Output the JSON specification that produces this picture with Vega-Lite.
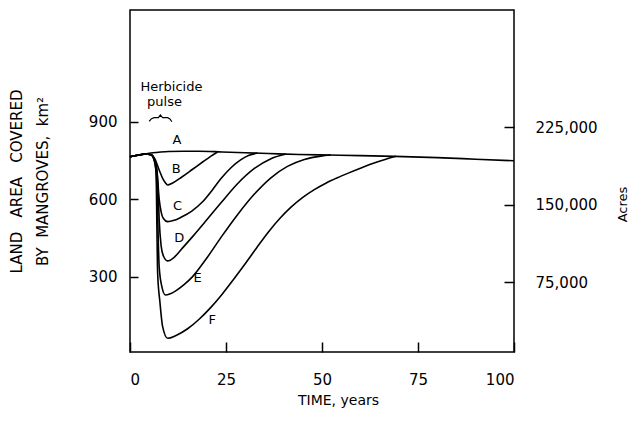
{
  "$schema": "https://vega.github.io/schema/vega-lite/v6.json",
  "width": 384,
  "height": 342,
  "autosize": {"type": "none"},
  "padding": {"left": 130, "top": 10, "right": 116, "bottom": 69},
  "background": "white",
  "config": {
    "font": "DejaVu Sans",
    "view": {"stroke": "black", "strokeWidth": 1.5},
    "axis": {"grid": false, "domain": false, "ticks": true, "zindex": 1, "labelColor": "black", "titleColor": "black", "tickColor": "black", "tickWidth": 1.5, "titleFontWeight": "normal", "labelFontSize": 15, "titleFontSize": 14}
  },
  "datasets": {
    "curves": [
      {"curve": "A", "year": 0, "area": 764}, {"curve": "A", "year": 2, "area": 770}, {"curve": "A", "year": 4, "area": 775}, {"curve": "A", "year": 6, "area": 780}, {"curve": "A", "year": 8, "area": 783}, {"curve": "A", "year": 10, "area": 785}, {"curve": "A", "year": 14, "area": 786}, {"curve": "A", "year": 18, "area": 786}, {"curve": "A", "year": 24, "area": 783}, {"curve": "A", "year": 30, "area": 780}, {"curve": "A", "year": 36, "area": 777}, {"curve": "A", "year": 44, "area": 773}, {"curve": "A", "year": 52, "area": 771}, {"curve": "A", "year": 60, "area": 769}, {"curve": "A", "year": 69, "area": 766}, {"curve": "A", "year": 80, "area": 761}, {"curve": "A", "year": 90, "area": 755}, {"curve": "A", "year": 100, "area": 749},
      {"curve": "B", "year": 0, "area": 764}, {"curve": "B", "year": 2, "area": 770}, {"curve": "B", "year": 4, "area": 775}, {"curve": "B", "year": 5.5, "area": 772}, {"curve": "B", "year": 6.5, "area": 755}, {"curve": "B", "year": 7.6, "area": 713}, {"curve": "B", "year": 8.5, "area": 681}, {"curve": "B", "year": 9.2, "area": 664}, {"curve": "B", "year": 9.8, "area": 655}, {"curve": "B", "year": 11, "area": 662}, {"curve": "B", "year": 13.5, "area": 686}, {"curve": "B", "year": 16.3, "area": 716}, {"curve": "B", "year": 19, "area": 745}, {"curve": "B", "year": 21, "area": 766}, {"curve": "B", "year": 22.8, "area": 783},
      {"curve": "C", "year": 0, "area": 764}, {"curve": "C", "year": 2, "area": 770}, {"curve": "C", "year": 4, "area": 775}, {"curve": "C", "year": 5.5, "area": 772}, {"curve": "C", "year": 6.3, "area": 758}, {"curve": "C", "year": 7.0, "area": 715}, {"curve": "C", "year": 7.6, "area": 600}, {"curve": "C", "year": 8.1, "area": 551}, {"curve": "C", "year": 8.7, "area": 525}, {"curve": "C", "year": 9.8, "area": 513}, {"curve": "C", "year": 11.5, "area": 518}, {"curve": "C", "year": 13.3, "area": 530}, {"curve": "C", "year": 16, "area": 553}, {"curve": "C", "year": 18.9, "area": 590}, {"curve": "C", "year": 21.5, "area": 637}, {"curve": "C", "year": 23.7, "area": 680}, {"curve": "C", "year": 26.3, "area": 722}, {"curve": "C", "year": 28.9, "area": 753}, {"curve": "C", "year": 31, "area": 770}, {"curve": "C", "year": 33.2, "area": 779},
      {"curve": "D", "year": 0, "area": 764}, {"curve": "D", "year": 2, "area": 770}, {"curve": "D", "year": 4, "area": 775}, {"curve": "D", "year": 5.5, "area": 772}, {"curve": "D", "year": 6.3, "area": 755}, {"curve": "D", "year": 6.9, "area": 720}, {"curve": "D", "year": 7.3, "area": 640}, {"curve": "D", "year": 7.6, "area": 520}, {"curve": "D", "year": 8.1, "area": 420}, {"curve": "D", "year": 8.7, "area": 380}, {"curve": "D", "year": 9.8, "area": 361}, {"curve": "D", "year": 11.5, "area": 375}, {"curve": "D", "year": 13.5, "area": 408}, {"curve": "D", "year": 16.3, "area": 455}, {"curve": "D", "year": 20, "area": 520}, {"curve": "D", "year": 23.7, "area": 586}, {"curve": "D", "year": 28, "area": 660}, {"curve": "D", "year": 32.4, "area": 719}, {"curve": "D", "year": 36.7, "area": 757}, {"curve": "D", "year": 40.6, "area": 775},
      {"curve": "E", "year": 0, "area": 764}, {"curve": "E", "year": 2, "area": 770}, {"curve": "E", "year": 4, "area": 775}, {"curve": "E", "year": 5.5, "area": 772}, {"curve": "E", "year": 6.3, "area": 752}, {"curve": "E", "year": 6.8, "area": 710}, {"curve": "E", "year": 7.1, "area": 600}, {"curve": "E", "year": 7.4, "area": 420}, {"curve": "E", "year": 7.6, "area": 338}, {"curve": "E", "year": 8.3, "area": 261}, {"curve": "E", "year": 9.2, "area": 229}, {"curve": "E", "year": 10.5, "area": 234}, {"curve": "E", "year": 12, "area": 246}, {"curve": "E", "year": 14, "area": 268}, {"curve": "E", "year": 16.3, "area": 300}, {"curve": "E", "year": 20, "area": 372}, {"curve": "E", "year": 23.7, "area": 452}, {"curve": "E", "year": 28, "area": 540}, {"curve": "E", "year": 32.4, "area": 620}, {"curve": "E", "year": 36.7, "area": 683}, {"curve": "E", "year": 41, "area": 727}, {"curve": "E", "year": 45.4, "area": 754}, {"curve": "E", "year": 49.7, "area": 767}, {"curve": "E", "year": 52.3, "area": 771},
      {"curve": "F", "year": 0, "area": 764}, {"curve": "F", "year": 2, "area": 770}, {"curve": "F", "year": 4, "area": 775}, {"curve": "F", "year": 5.5, "area": 772}, {"curve": "F", "year": 6.3, "area": 750}, {"curve": "F", "year": 6.8, "area": 700}, {"curve": "F", "year": 7.0, "area": 500}, {"curve": "F", "year": 7.2, "area": 313}, {"curve": "F", "year": 7.8, "area": 200}, {"curve": "F", "year": 8.5, "area": 106}, {"curve": "F", "year": 9.8, "area": 61}, {"curve": "F", "year": 12, "area": 72}, {"curve": "F", "year": 15, "area": 98}, {"curve": "F", "year": 18, "area": 135}, {"curve": "F", "year": 21, "area": 180}, {"curve": "F", "year": 24, "area": 232}, {"curve": "F", "year": 27, "area": 290}, {"curve": "F", "year": 30, "area": 350}, {"curve": "F", "year": 33, "area": 412}, {"curve": "F", "year": 36, "area": 472}, {"curve": "F", "year": 39, "area": 525}, {"curve": "F", "year": 42, "area": 570}, {"curve": "F", "year": 45, "area": 607}, {"curve": "F", "year": 48, "area": 637}, {"curve": "F", "year": 51, "area": 662}, {"curve": "F", "year": 54, "area": 683}, {"curve": "F", "year": 57, "area": 702}, {"curve": "F", "year": 60, "area": 720}, {"curve": "F", "year": 63, "area": 737}, {"curve": "F", "year": 66, "area": 752}, {"curve": "F", "year": 69.3, "area": 766}
    ],
    "labels": [
      {"label": "A", "year": 12.2, "area": 829}, {"label": "B", "year": 12, "area": 716}, {"label": "C", "year": 12.4, "area": 573}, {"label": "D", "year": 12.8, "area": 450}, {"label": "E", "year": 17.6, "area": 293}, {"label": "F", "year": 21.4, "area": 132}
    ],
    "notes": [
      {"label": "Herbicide", "year": 10.8, "area": 1036}, {"label": "pulse", "year": 9.0, "area": 975}
    ],
    "brace": [
      {"year": 5.0, "area": 902}, {"year": 5.6, "area": 912}, {"year": 6.3, "area": 916}, {"year": 7.4, "area": 916}, {"year": 7.9, "area": 926}, {"year": 8.5, "area": 916}, {"year": 9.8, "area": 916}, {"year": 10.4, "area": 911}, {"year": 10.9, "area": 900}
    ],
    "acres": [
      {"acres": 75000}, {"acres": 150000}, {"acres": 225000}
    ]
  },
  "layer": [
    {
      "encoding": {
        "x": {"field": "year", "type": "quantitative", "scale": {"domain": [0, 100], "nice": false}, "axis": {"values": [0, 25, 50, 75, 100], "offset": -10, "tickSize": 10, "labelPadding": 20, "title": "TIME, years", "titleX": 208, "titleY": 58, "titleBaseline": "middle", "titleAlign": "center"}},
        "y": {"field": "area", "type": "quantitative", "scale": {"domain": [8, 1333], "nice": false, "zero": false}, "axis": {"values": [300, 600, 900], "offset": -8, "tickSize": 8, "labelPadding": 13, "title": ["LAND\u00a0\u00a0\u00a0AREA\u00a0\u00a0\u00a0COVERED", "BY\u00a0\u00a0MANGROVES,\u00a0\u00a0km²"], "titleFontSize": 15, "titleAngle": -90, "titleLineHeight": 26, "titleBaseline": "top", "titleAlign": "center", "titleX": -129, "titleY": 171}}
      },
      "layer": [
        {"data": {"name": "curves"}, "mark": {"type": "line", "interpolate": "monotone", "color": "black", "strokeWidth": 1.6}, "encoding": {"detail": {"field": "curve"}}},
        {"data": {"name": "brace"}, "mark": {"type": "line", "color": "black", "strokeWidth": 1.2}, "encoding": {}},
        {"data": {"name": "labels"}, "mark": {"type": "text", "fontSize": 13, "color": "black"}, "encoding": {"text": {"field": "label"}}},
        {"data": {"name": "notes"}, "mark": {"type": "text", "fontSize": 13, "color": "black"}, "encoding": {"text": {"field": "label"}}}
      ]
    },
    {
      "data": {"name": "acres"},
      "mark": {"type": "point", "opacity": 0},
      "encoding": {
        "y": {"field": "acres", "type": "quantitative", "scale": {"domain": [7258, 338240], "nice": false, "zero": false}, "axis": {"orient": "right", "values": [75000, 150000, 225000], "format": ",.0f", "offset": -10, "tickSize": 10, "labelPadding": 21, "title": "Acres", "titleAngle": -90, "titleFontSize": 13, "titleBaseline": "middle", "titleAlign": "center", "titleX": 118, "titleY": 194}}
      }
    }
  ],
  "resolve": {"scale": {"y": "independent"}}
}
